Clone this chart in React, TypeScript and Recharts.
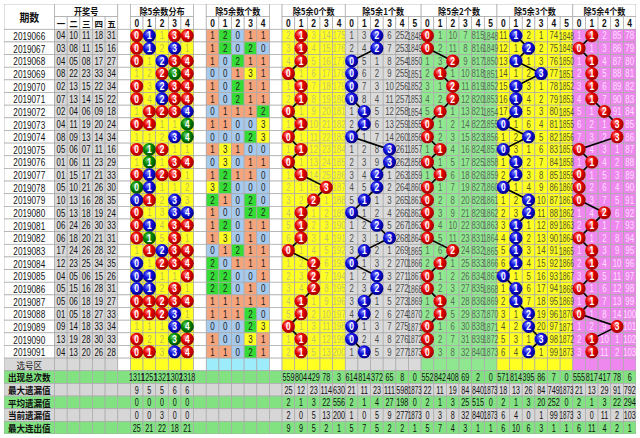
import React from 'react';
import { ScatterChart, Scatter, XAxis, YAxis } from 'recharts';

// --- data ---
const periods = [
  '2019066', '2019067', '2019068', '2019069', '2019070', '2019071', '2019072',
  '2019073', '2019074', '2019075', '2019076', '2019077', '2019078', '2019079',
  '2019080', '2019081', '2019082', '2019083', '2019084', '2019085', '2019086',
  '2019087', '2019088', '2019089', '2019090', '2019091',
];

const drawNumbers = [
  [4, 10, 11, 18, 31], [3, 8, 11, 15, 16], [4, 5, 8, 17, 27], [8, 22, 23, 33, 34],
  [2, 13, 15, 22, 34], [7, 13, 14, 15, 22], [2, 4, 6, 9, 18], [4, 11, 19, 20, 24],
  [8, 9, 13, 14, 34], [5, 6, 7, 11, 16], [1, 6, 11, 23, 29], [1, 15, 17, 21, 33],
  [5, 10, 21, 26, 30], [10, 13, 16, 28, 35], [5, 13, 18, 19, 24], [6, 24, 26, 30, 33],
  [6, 18, 20, 21, 31], [17, 24, 26, 28, 32], [12, 23, 25, 34, 35], [4, 5, 6, 15, 26],
  [5, 15, 16, 28, 31], [5, 6, 18, 19, 27], [1, 5, 18, 27, 33], [9, 14, 18, 33, 34],
  [13, 19, 28, 30, 33], [4, 13, 20, 26, 28],
];

const numberHeads = ['一', '二', '三', '四', '五'];

// omission carried in from before 2019066
const distMissBefore = [0, 0, 0, 0, 0];
const zone0MissBefore = [1, 0, 2, 13, 174];
const zone1MissBefore = [0, 2, 0, 5, 251, 1847];
const zone2MissBefore = [0, 0, 9, 6, 814, 1847];
const zone3MissBefore = [10, 0, 1, 0, 73, 1847];
const zone4MissBefore = [0, 0, 1, 84, 77];

const statLabels = ['出现总次数', '最大遗漏值', '平均遗漏值', '当前遗漏值', '最大连出值'];
const distStats = [[1311, 1251, 1321, 1302, 1318], [9, 5, 5, 6, 6], [0, 0, 0, 0, 0], [0, 0, 3, 0, 0], [25, 21, 22, 18, 21]];
const zone0Stats = [[559, 804, 429, 78, 3], [25, 12, 23, 114, 630], [2, 1, 3, 22, 556], [2, 0, 5, 13, 200], [9, 9, 5, 2, 1]];
const zone1Stats = [[614, 814, 372, 65, 8, 0], [21, 11, 23, 111, 598, 1873], [2, 1, 4, 27, 198, 0], [1, 0, 5, 9, 277, 1873], [5, 7, 5, 2, 2, 1]];
const zone2Stats = [[552, 842, 408, 69, 2, 0], [22, 11, 19, 84, 840, 1873], [2, 1, 3, 25, 515, 0], [0, 3, 8, 32, 840, 1873], [5, 7, 4, 3, 1, 1]];
const zone3Stats = [[571, 814, 395, 86, 7, 0], [18, 13, 26, 84, 749, 1873], [2, 1, 3, 20, 252, 0], [6, 4, 0, 1, 99, 1873], [6, 10, 6, 3, 1, 1]];
const zone4Stats = [[555, 817, 417, 78, 6], [21, 13, 29, 91, 792], [2, 1, 3, 22, 294], [3, 0, 11, 2, 103], [6, 11, 4, 2, 1]];

// --- layout / styles ---
const W = 640;
const H = 438;
const M = 4;
const NCOLS = 50;
const NROWS = 34;
const U = (W - 2 * M) / NCOLS;
const V = (H - 2 * M) / NROWS;

const CJK = "'Noto Sans CJK SC', sans-serif";
const NUM = "'Liberation Sans', Arial, sans-serif";
const GRID = '#a9a9a9';
const YELLOW = '#ffff22';
const STAT_GREEN = '#82e282';
const STAT_GRAY = '#d6d6d6';
const NUM_GRAY = '#d8d8d8';
const COUNT_FILL = ['#a6c9ee', '#f5a47c', '#36dc36', '#ffff22'];
const BALL = {
  red: ['#ff9a9a', '#e80000', '#a00000'],
  blue: ['#8a8aff', '#1010e0', '#00008a'],
  green: ['#7ad07a', '#008a00', '#004c00'],
};

const zones = [
  { start: 22, n: 5, residue: 0, title: '除5余0个数', bg: YELLOW, txt: '#c4c46a', ball: 'red', before: zone0MissBefore, stats: zone0Stats },
  { start: 27, n: 6, residue: 1, title: '除5余1个数', bg: '#dadada', txt: '#4a4a4a', ball: 'blue', before: zone1MissBefore, stats: zone1Stats },
  { start: 33, n: 6, residue: 2, title: '除5余2个数', bg: '#8fe88f', txt: '#5a6a5a', ball: 'red', before: zone2MissBefore, stats: zone2Stats },
  { start: 39, n: 6, residue: 3, title: '除5余3个数', bg: YELLOW, txt: '#56562a', ball: 'blue', before: zone3MissBefore, stats: zone3Stats },
  { start: 45, n: 5, residue: 4, title: '除5余4个数', bg: '#ee88ee', txt: '#ffe0ff', ball: 'red', before: zone4MissBefore, stats: zone4Stats },
];

type Cell = {
  x: number; y: number; w: number; h: number;
  fill: string; text: string; color: string;
  size: number; bold: boolean; font: string; sx: number;
};

const cells: Cell[] = [];
const addCell = (col: number, row: number, w: number, h: number, fill: string, text = '', o: Partial<Cell> = {}) => {
  cells.push({
    x: col + w / 2, y: row + h / 2, w, h, fill, text,
    color: '#111', size: 10, bold: false, font: NUM, sx: 0.8, ...o,
  });
};

const counts = drawNumbers.map((nums) => [0, 1, 2, 3, 4].map((k) => nums.filter((v) => v % 5 === k).length));

// header
const head = { bold: true, font: CJK, size: 9, sx: 0.9 };
addCell(0, 0, 4, 2, '#fff', '期数', { ...head, size: 11 });
addCell(4, 0, 5, 1, '#fff', '开奖号', head);
numberHeads.forEach((t, i) => addCell(4 + i, 1, 1, 1, '#fff', t, { ...head, size: 8.5, sx: 1 }));
[9, 15, 21].forEach((c) => addCell(c, 0, 1, 2, '#fff'));
addCell(10, 0, 5, 1, '#fff', '除5余数分布', head);
addCell(16, 0, 5, 1, '#fff', '除5余数个数', head);
for (let i = 0; i < 5; i++) {
  addCell(10 + i, 1, 1, 1, '#fff', String(i), { bold: true, size: 10.5 });
  addCell(16 + i, 1, 1, 1, '#fff', String(i), { bold: true, size: 10.5 });
}
zones.forEach((z) => {
  addCell(z.start, 0, z.n, 1, '#fff', z.title, head);
  for (let i = 0; i < z.n; i++) addCell(z.start + i, 1, 1, 1, '#fff', String(i), { bold: true, size: 10.5 });
});

// data rows
type Ball = { x: number; y: number; label: string; kind: string };
const distBalls: Ball[] = [];
const zoneBalls: Ball[][] = zones.map(() => []);
const distMiss = [...distMissBefore];
const zoneMiss = zones.map((z) => [...z.before]);

periods.forEach((p, r) => {
  const row = 2 + r;
  addCell(0, row, 4, 1, '#fff', p, { size: 10.5, sx: 0.78 });
  drawNumbers[r].forEach((v, i) => addCell(4 + i, row, 1, 1, NUM_GRAY, String(v).padStart(2, '0'), { sx: 0.78 }));
  [9, 15, 21].forEach((c) => addCell(c, row, 1, 1, '#fff'));
  for (let k = 0; k < 5; k++) {
    const c = counts[r][k];
    if (c > 0) {
      distMiss[k] = 0;
      addCell(10 + k, row, 1, 1, YELLOW);
      distBalls.push({ x: 10 + k + 0.5, y: row + 0.5, label: String(k), kind: c === 1 ? 'red' : c === 2 ? 'blue' : 'green' });
    } else {
      distMiss[k] += 1;
      addCell(10 + k, row, 1, 1, YELLOW, String(distMiss[k]), { color: '#bdbd50' });
    }
    addCell(16 + k, row, 1, 1, COUNT_FILL[Math.min(c, 3)], String(c), { color: '#222' });
  }
  zones.forEach((z, zi) => {
    const hit = counts[r][z.residue];
    for (let i = 0; i < z.n; i++) {
      if (i === hit) {
        zoneMiss[zi][i] = 0;
        addCell(z.start + i, row, 1, 1, z.bg);
        zoneBalls[zi].push({ x: z.start + i + 0.5, y: row + 0.5, label: String(i), kind: z.ball });
      } else {
        zoneMiss[zi][i] += 1;
        addCell(z.start + i, row, 1, 1, z.bg, String(zoneMiss[zi][i]), { color: z.txt, sx: zoneMiss[zi][i] > 999 ? 0.68 : 0.78 });
      }
    }
  });
});

// 选号区 row
{
  const row = 28;
  addCell(0, row, 4, 1, NUM_GRAY, '选号区', { font: CJK, size: 9.5, sx: 0.9, color: '#222' });
  for (let i = 0; i < 5; i++) {
    addCell(4 + i, row, 1, 1, NUM_GRAY);
    addCell(10 + i, row, 1, 1, YELLOW);
    addCell(16 + i, row, 1, 1, '#9cecfc');
  }
  [9, 15, 21].forEach((c) => addCell(c, row, 1, 1, '#fff'));
  zones.forEach((z) => {
    for (let i = 0; i < z.n; i++) addCell(z.start + i, row, 1, 1, z.bg);
  });
}

// stat rows
statLabels.forEach((label, s) => {
  const row = 29 + s;
  const fill = s % 2 === 0 ? STAT_GREEN : STAT_GRAY;
  addCell(0, row, 4, 1, fill, label, { font: CJK, bold: true, size: 9.5, sx: 0.9 });
  for (let c = 4; c < 22; c++) {
    const k = c - 10;
    const txt = k >= 0 && k < 5 ? String(distStats[s][k]) : '';
    addCell(c, row, 1, 1, fill, txt, { sx: 0.72 });
  }
  zones.forEach((z) => {
    for (let i = 0; i < z.n; i++) addCell(z.start + i, row, 1, 1, fill, String(z.stats[s][i]), { sx: z.stats[s][i] > 999 ? 0.62 : 0.72 });
  });
});

// --- shapes ---
const CellRect = (props: any) => {
  const { cx, cy, payload } = props;
  const w = payload.w * U;
  const h = payload.h * V;
  return <rect x={cx - w / 2} y={cy - h / 2} width={w} height={h} fill={payload.fill} stroke={GRID} strokeWidth={0.7} />;
};

const CellText = (props: any) => {
  const { cx, cy, payload } = props;
  if (!payload.text) return <g />;
  return (
    <g transform={`translate(${cx},${cy + 0.5}) scale(${payload.sx},1)`}>
      <text x={0} y={0} textAnchor="middle" dominantBaseline="central" fontFamily={payload.font}
        fontSize={payload.size} fontWeight={payload.bold ? 700 : 400} fill={payload.color}>
        {payload.text}
      </text>
    </g>
  );
};

const BallShape = (props: any) => {
  const { cx, cy, payload } = props;
  return (
    <g>
      <circle cx={cx} cy={cy} r={U / 2 + 0.2} fill={`url(#ball-${payload.kind})`} />
      <g transform={`translate(${cx},${cy + 0.5}) scale(0.85,1)`}>
        <text x={0} y={0} textAnchor="middle" dominantBaseline="central" fontFamily={NUM}
          fontSize={10} fontWeight={700} fill="#fff">
          {payload.label}
        </text>
      </g>
    </g>
  );
};

export default function App() {
  return (
    <div style={{ position: 'absolute', left: 0, top: 0, width: W, height: H, background: '#fff' }}>
      <ScatterChart width={W} height={H} margin={{ top: M, right: M, bottom: M, left: M }}>
        <defs>
          {Object.entries(BALL).map(([k, c]) => (
            <radialGradient key={k} id={`ball-${k}`} cx="38%" cy="35%" r="65%">
              <stop offset="0%" stopColor={c[0]} />
              <stop offset="45%" stopColor={c[1]} />
              <stop offset="100%" stopColor={c[2]} />
            </radialGradient>
          ))}
        </defs>
        <XAxis type="number" dataKey="x" domain={[0, NCOLS]} hide allowDataOverflow />
        <YAxis type="number" dataKey="y" domain={[0, NROWS]} reversed hide allowDataOverflow />
        <Scatter data={cells} shape={CellRect} isAnimationActive={false} />
        <Scatter data={cells} shape={CellText} isAnimationActive={false} />
        <Scatter data={distBalls} shape={BallShape} isAnimationActive={false} />
        {zoneBalls.map((b, i) => (
          <Scatter key={i} data={b} shape={BallShape} line={{ stroke: '#000', strokeWidth: 1.6 }}
            lineType="joint" isAnimationActive={false} />
        ))}
      </ScatterChart>
    </div>
  );
}
